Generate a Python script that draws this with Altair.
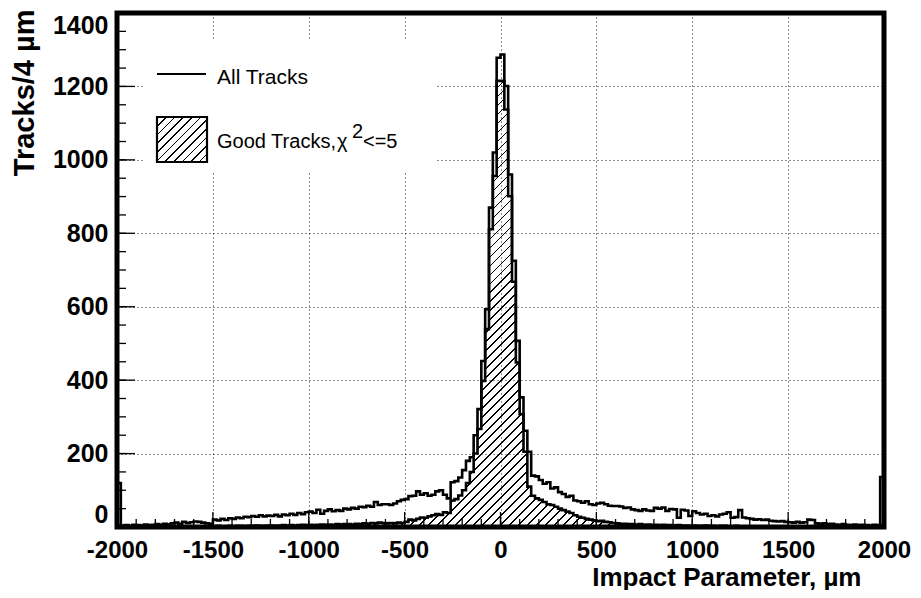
import altair as alt
import pandas as pd

# ---------------- data (20 um bins from -2000 to 2000) ----------------
bin_width = 20
x_min, x_max = -2000, 2000

all_tracks = [
    120, 4, 5, 3, 6,      5, 4, 7, 5, 6,        8, 6, 9, 7, 10,       12, 9, 14, 11, 13,
    15, 14, 12, 10, 9,    20, 18, 22, 19, 24,   22, 26, 24, 28, 27,   30, 28, 32, 29, 31,
    30, 33, 29, 34, 32,   36, 33, 38, 35, 40,   42, 38, 47, 36, 44,   48, 43, 46, 44, 50,
    48, 52, 50, 55, 54,   58, 55, 68, 60, 62,   62, 60, 64, 70, 74,   76, 84, 85, 97, 88,
    92, 85, 88, 97, 100,  88, 78, 122, 125, 135, 155, 180, 190, 250, 321, 452, 593, 870, 1020, 1278,
    1287, 1201, 960, 725, 507, 353, 262, 205, 140, 138, 128, 118, 122, 105, 108, 95, 90, 82, 85, 72,
    70, 66, 70, 62, 60,   64, 66, 62, 58, 57,   57, 56, 52, 53, 48,   46, 44, 48, 45, 44,
    52, 50, 53, 44, 49,   48, 25, 47, 45, 30,   43, 38, 34, 36, 30,   32, 29, 34, 36, 40,
    25, 27, 46, 26, 24,   22, 20, 21, 19, 20,   17, 16, 15, 16, 14,   13, 12, 14, 12, 13,
    20, 19, 10, 9, 10,    8, 9, 7, 6, 8,        6, 5, 7, 5, 6,        5, 4, 6, 5, 136,
]

good_tracks = [
    3, 0, 1, 0, 1,        0, 1, 0, 1, 1,        0, 1, 1, 0, 2,        1, 1, 2, 1, 1,
    2, 1, 2, 2, 1,        2, 3, 2, 2, 3,        2, 3, 3, 2, 3,        3, 4, 3, 3, 4,
    4, 3, 4, 5, 4,        5, 4, 5, 6, 5,        6, 5, 6, 7, 6,        7, 6, 8, 7, 8,
    8, 7, 9, 8, 10,       9, 11, 10, 12, 11,    10, 11, 10, 12, 11,   14, 20, 18, 22, 26,
    25, 29, 32, 35, 33,   40, 38, 72, 76, 86,   100, 120, 150, 200, 267, 398, 539, 811, 956, 1215,
    1215, 1137, 901, 668, 448, 307, 205, 110, 85, 78, 74, 68, 62, 60, 55, 50, 46, 42, 38, 32,
    28, 25, 22, 20, 18,   16, 17, 14, 13, 11,   10, 9, 9, 8, 8,       7, 8, 6, 7, 6,
    6, 5, 6, 5, 5,        4, 5, 4, 4, 3,        4, 3, 3, 4, 3,        3, 2, 3, 3, 2,
    2, 3, 2, 2, 2,        2, 1, 2, 2, 1,        1, 2, 1, 1, 2,        1, 1, 1, 2, 1,
    1, 1, 0, 1, 1,        0, 1, 1, 0, 1,        1, 0, 1, 0, 0,        1, 0, 0, 1, 4,
]

x_labels = [-2000, -1500, -1000, -500, 0, 500, 1000, 1500, 2000]
y_labels = [0, 200, 400, 600, 800, 1000, 1200, 1400]
x_minor = list(range(-2000, 2001, 100))
y_minor = list(range(0, 1401, 50))

# ---------------- geometry / style ----------------
W, H = 767, 514
Y_MAX = 1400
FONT = "Liberation Sans"
CLEAR = "rgba(255,255,255,0)"


def hatch(w, h, spacing=9.0, lw=1.6):
    """Diagonal '/' hatch as a hard-stop linear gradient (objectBoundingBox)."""
    r = h / w
    s = (1 + r) / (1 + r * r)
    total = w + h
    n = max(1, int(round(total / spacing)))
    f = lw / total
    stops = []
    for i in range(n):
        a = round(i / n, 6)
        b = round(min(i / n + f, 1), 6)
        c = round((i + 1) / n, 6)
        stops += [
            alt.GradientStop(color="black", offset=a),
            alt.GradientStop(color="black", offset=b),
            alt.GradientStop(color=CLEAR, offset=b),
            alt.GradientStop(color=CLEAR, offset=c),
        ]
    return alt.LinearGradient(gradient="linear", stops=stops,
                              x1=0, y1=0, x2=round(s, 5), y2=round(s * r, 5))


edges = [x_min + bin_width * i for i in range(len(all_tracks))] + [x_max]
df_all = pd.DataFrame({"x": edges, "y": all_tracks + [all_tracks[-1]]})
df_good = pd.DataFrame({"x": edges, "y": good_tracks + [good_tracks[-1]]})

x_axis = alt.Axis(values=x_labels, title="Impact Parameter, µm", labelExpr="'' + datum.value",
                  labelPadding=11, labelFlush=False, labelOverlap=False,
                  titleX=744, titleY=58, titleAlign="right", titleBaseline="alphabetic",
                  titleAnchor="end")
y_axis = alt.Axis(values=y_labels, title="Tracks/4 µm", labelExpr="'' + datum.value",
                  labelPadding=9, labelFlush=True, labelFontSize=25,
                  labelOverlap=False, titleAngle=270, titleX=-84, titleY=-4,
                  titleAlign="right", titleBaseline="alphabetic", titleAnchor="end",
                  titleFontSize=29)

X = alt.X("x:Q", scale=alt.Scale(domain=[x_min, x_max], nice=False, zero=False), axis=x_axis)
Y = alt.Y("y:Q", scale=alt.Scale(domain=[0, Y_MAX], nice=False), axis=y_axis)

good_h = max(good_tracks) / Y_MAX * H

good_area = alt.Chart(df_good).mark_area(
    interpolate="step-after", color=hatch(W, good_h)
).encode(x=X, y=Y)

good_line = alt.Chart(df_good).mark_line(
    interpolate="step-after", color="black", strokeWidth=2.6
).encode(x=X, y=Y)

all_line = alt.Chart(df_all).mark_line(
    interpolate="step-after", color="black", strokeWidth=2.6
).encode(x=X, y=Y)

# inside ticks (ROOT style)
xt_minor = alt.Chart(pd.DataFrame({"x": x_minor})).mark_rule(color="black", strokeWidth=1.3).encode(
    x=X, y=alt.value(H), y2=alt.value(H - 8))
xt_major = alt.Chart(pd.DataFrame({"x": x_labels})).mark_rule(color="black", strokeWidth=1.3).encode(
    x=X, y=alt.value(H), y2=alt.value(H - 15))
yt_minor = alt.Chart(pd.DataFrame({"y": y_minor})).mark_rule(color="black", strokeWidth=1.3).encode(
    y=Y, x=alt.value(0), x2=alt.value(9))
yt_major = alt.Chart(pd.DataFrame({"y": y_labels})).mark_rule(color="black", strokeWidth=1.3).encode(
    y=Y, x=alt.value(0), x2=alt.value(18))

# legend (drawn in pixel space, inside the frame)
one = pd.DataFrame({"k": [0]})
leg_bg = alt.Chart(one).mark_rect(color="white").encode(
    x=alt.value(26), x2=alt.value(319), y=alt.value(27), y2=alt.value(159))
leg_line = alt.Chart(one).mark_rule(color="black", strokeWidth=2.2).encode(
    x=alt.value(40), x2=alt.value(89), y=alt.value(61))
leg_box = alt.Chart(one).mark_rect(color=hatch(50, 45), stroke="black", strokeWidth=2.2).encode(
    x=alt.value(40), x2=alt.value(90), y=alt.value(104), y2=alt.value(149))

# thick frame around the plot area
frame = alt.Chart(one).mark_rect(fill=CLEAR, stroke="black", strokeWidth=5).encode(
    x=alt.value(0), x2=alt.value(W), y=alt.value(0), y2=alt.value(H))


def leg_text(txt, x, y, size=21):
    return alt.Chart(one).mark_text(text=txt, font=FONT, fontSize=size, align="left",
                                    baseline="alphabetic", color="black").encode(
        x=alt.value(x), y=alt.value(y))


legend = (leg_text("All Tracks", 100, 71) + leg_text("Good Tracks,", 100, 135, 20)
          + leg_text("χ", 220, 135, 20) + leg_text("2", 235, 125, 20) + leg_text("<=5", 246, 135, 20))

chart = alt.layer(
    good_area, good_line, all_line, xt_minor, xt_major, yt_minor, yt_major,
    leg_bg, leg_line, leg_box, legend, frame
).properties(
    width=W, height=H,
    autosize=alt.AutoSizeParams(type="none"),
    padding={"left": 109, "top": 5, "right": 29, "bottom": 63},
    background="white",
).configure_view(
    stroke=None, strokeWidth=0
).configure_axis(
    labelFont=FONT, labelFontWeight="bold", labelFontSize=24, labelColor="black",
    titleFont=FONT, titleFontWeight="bold", titleFontSize=26, titleColor="black",
    grid=True, gridColor="black", gridDash=[1, 3], gridWidth=1, gridOpacity=0.9,
    domain=False, ticks=False, tickSize=0,
)

chart.save("out.html", embed_options={"renderer": "svg", "actions": False})
